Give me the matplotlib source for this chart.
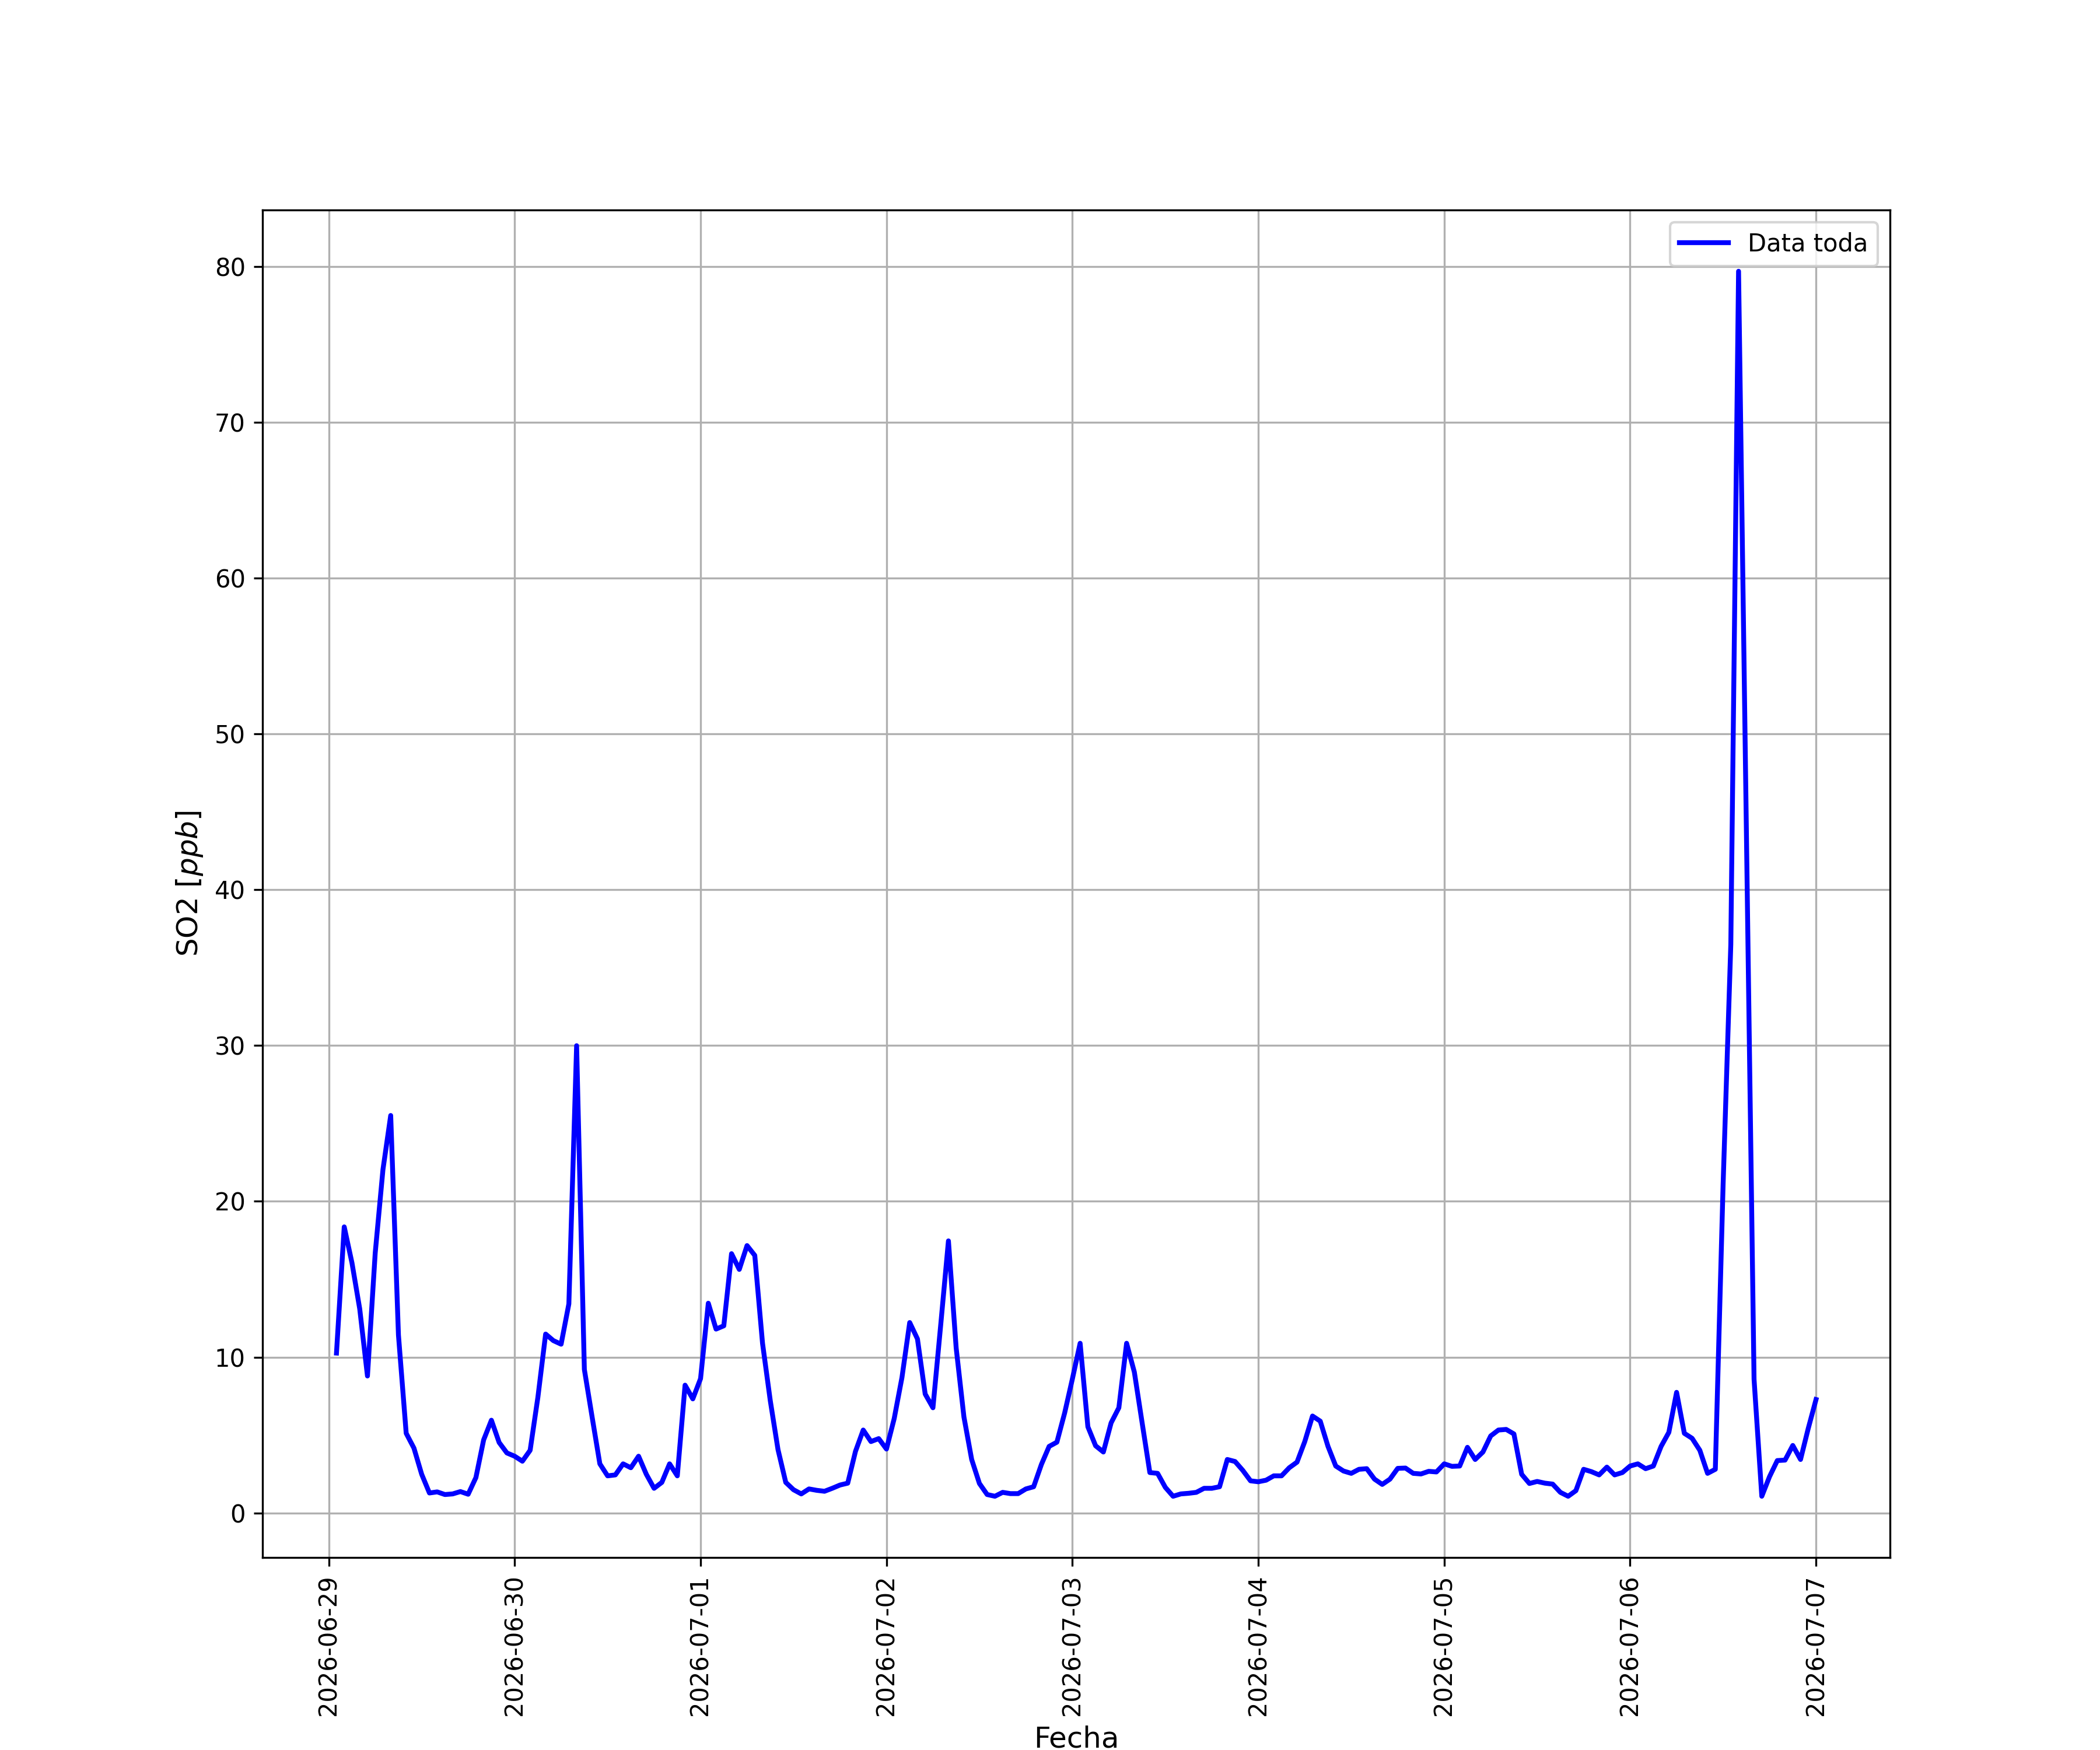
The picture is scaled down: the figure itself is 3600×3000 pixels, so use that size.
import numpy as np
import pandas as pd
import matplotlib
matplotlib.use("Agg")
import matplotlib.pyplot as plt
import matplotlib.dates as mdates

# Serie horaria de SO2 (ppb), desde 2026-06-29 01:00 hasta 2026-07-07 00:00
so2_0629 = [10.26, 18.36, 16.05, 13.1, 8.79, 16.68, 22.04, 25.51, 11.42, 5.11, 4.16, 2.48,
            1.28, 1.35, 1.18, 1.22, 1.37, 1.20, 2.27, 4.69, 5.95, 4.52, 3.85]
so2_0630 = [3.64, 3.32, 4.02, 7.42, 11.48, 11.06, 10.83, 13.42, 29.99, 9.21, 6.16, 3.15,
            2.38, 2.44, 3.15, 2.90, 3.64, 2.48, 1.58, 1.96, 3.15, 2.38, 8.20, 7.32]
so2_0701 = [8.62, 13.46, 11.80, 12.01, 16.64, 15.63, 17.16, 16.53, 10.89, 7.21, 4.06, 1.96,
            1.49, 1.22, 1.54, 1.45, 1.39, 1.58, 1.79, 1.91, 3.95, 5.32, 4.58, 4.77]
so2_0702 = [4.10, 6.06, 8.69, 12.22, 11.17, 7.63, 6.75, 12.05, 17.46, 10.58, 6.16, 3.43,
            1.89, 1.18, 1.07, 1.32, 1.24, 1.24, 1.54, 1.68, 3.11, 4.27, 4.54, 6.41]
so2_0703 = [8.6, 10.89, 5.53, 4.31, 3.91, 5.78, 6.75, 10.89, 9.04, 5.8, 2.59, 2.54,
            1.64, 1.07, 1.22, 1.26, 1.32, 1.58, 1.58, 1.68, 3.43, 3.30, 2.73, 2.06]
so2_0704 = [2.00, 2.10, 2.38, 2.38, 2.90, 3.26, 4.58, 6.22, 5.89, 4.27, 3.01, 2.69,
            2.54, 2.80, 2.84, 2.17, 1.83, 2.17, 2.86, 2.88, 2.54, 2.50, 2.67, 2.63]
so2_0705 = [3.15, 2.99, 3.01, 4.21, 3.43, 3.91, 4.94, 5.32, 5.36, 5.07, 2.48, 1.89,
            2.02, 1.91, 1.85, 1.32, 1.07, 1.43, 2.80, 2.65, 2.44, 2.94, 2.44, 2.59]
so2_0706 = [3.01, 3.15, 2.84, 3.01, 4.27, 5.17, 7.74, 5.11, 4.79, 4.02, 2.54, 2.80,
            21.0, 36.5, 79.7, 44.1, 8.58, 1.07, 2.33, 3.36, 3.39, 4.33, 3.43, 5.43]
so2_0707 = [7.28]

so2 = (so2_0629 + so2_0630 + so2_0701 + so2_0702 + so2_0703 +
       so2_0704 + so2_0705 + so2_0706 + so2_0707)
fechas = pd.date_range("2026-06-29 01:00", periods=len(so2), freq="h")

fig, ax = plt.subplots(figsize=(12, 10))
ax.plot(fechas, so2, color="blue", linewidth=2, label="Data toda")

ax.xaxis.set_major_locator(mdates.DayLocator())
ax.xaxis.set_major_formatter(mdates.DateFormatter("%Y-%m-%d"))
plt.xticks(rotation=90)

ax.set_xlabel("Fecha", fontsize=12)
ax.set_ylabel("SO2 [$ppb$]", fontsize=12)
ax.legend(loc="upper right")
ax.grid(True)

fig.savefig("out.png", dpi=300)
